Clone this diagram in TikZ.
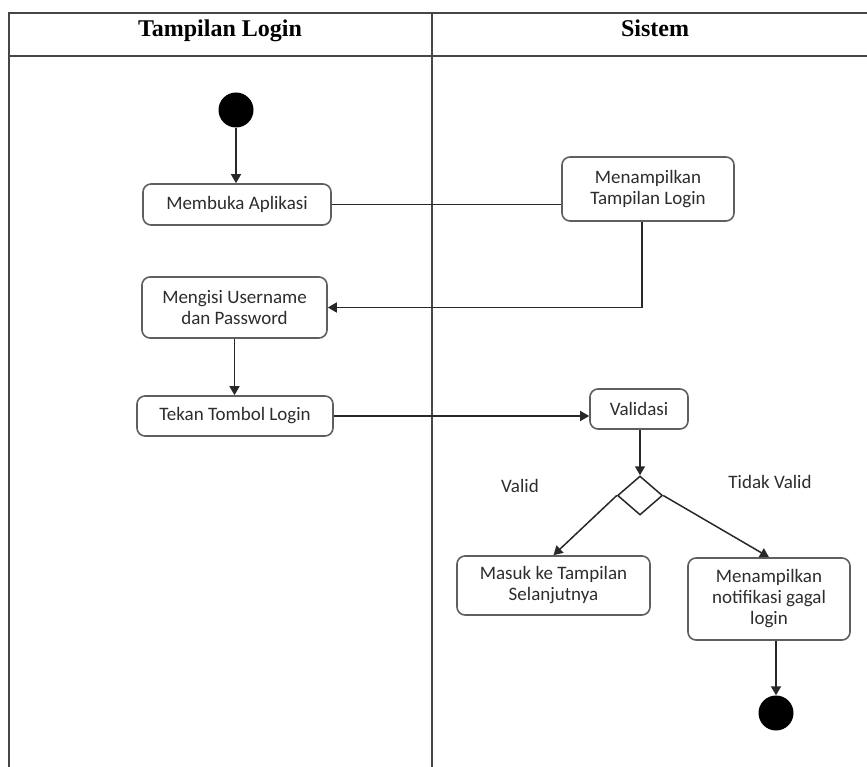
\documentclass[tikz,border=0pt]{standalone}
\usepackage{fontspec}
\setmainfont{Carlito}
\newfontfamily\headfont{Liberation Serif}
\usetikzlibrary{arrows.meta,shapes.geometric}

\definecolor{textgray}{RGB}{45,45,45}
\definecolor{boxgray}{RGB}{95,95,95}
\definecolor{lanegray}{RGB}{70,70,70}
\definecolor{linegray}{RGB}{40,40,40}

\tikzset{
  lane/.style={draw=lanegray, line width=2pt},
  head/.style={font=\headfont\bfseries\fontsize{24}{28}\selectfont, text=black, anchor=base},
  act/.style={draw=boxgray, line width=1.6pt, rounded corners=8pt, fill=white,
    align=center, inner sep=0pt, text=textgray,
    font=\fontsize{19}{21}\selectfont},
  flow/.style={draw=linegray, line width=1.5pt, -{Triangle[length=9pt,width=10pt]}},
  plain/.style={draw=linegray, line width=1.5pt},
  dot/.style={circle, fill=black, inner sep=0pt, minimum size=35pt},
  choice/.style={diamond, draw=linegray, line width=1.5pt, inner sep=0pt,
    minimum width=45pt, minimum height=39pt, fill=white},
  lbl/.style={text=textgray, font=\fontsize{19}{21}\selectfont}
}

\begin{document}
\begin{tikzpicture}[x=1pt, y=-1pt]
\useasboundingbox (0,0) rectangle (867,767);

% swimlane frame
\draw[lane] (9,767) -- (9,13) -- (867,13);
\draw[lane] (9,56) -- (867,56);
\draw[lane] (432,13) -- (432,767);
\node[head] (h1) at (220,37) {Tampilan Login};
\node[head] (h2) at (655,37) {Sistem};

% activities
\node[dot] (start) at (236,110) {};
\node[act, minimum width=188pt, minimum height=41pt] (buka) at (237,204.5) {Membuka Aplikasi};
\node[act, minimum width=172pt, minimum height=64pt] (tampil) at (648,189) {Menampilkan\\Tampilan Login};
\node[act, minimum width=185pt, minimum height=61pt] (isi) at (234.5,307.5) {Mengisi Username\\dan Password};
\node[act, minimum width=196pt, minimum height=40pt] (tekan) at (235,416) {Tekan Tombol Login};
\node[act, minimum width=98pt, minimum height=40pt] (valid) at (639,409) {Validasi};
\node[choice] (dec) at (640,495.5) {};
\node[act, minimum width=193pt, minimum height=59pt] (masuk) at (553.5,585.5) {Masuk ke Tampilan\\Selanjutnya};
\node[act, minimum width=162pt, minimum height=82pt] (gagal) at (769,599) {Menampilkan\\notifikasi gagal\\login};
\node[dot] (end) at (776,713) {};

\node[lbl] (lv) at (520,486) {Valid};
\node[lbl] (ltv) at (770,482) {Tidak Valid};

% connectors
\draw[flow] (start.south) -- (start.south |- buka.north);
\draw[plain] (buka.east) -- (buka.east -| tampil.west);
\draw[flow] ([xshift=-6pt]tampil.south) |- (isi.east);
\draw[flow] (isi.south) -- (isi.south |- tekan.north);
\draw[flow] (tekan.east) -- (tekan.east -| valid.west);
\draw[flow] (dec.north |- valid.south) -- (dec.north);
\draw[flow] (dec.west) -- (masuk.north);
\draw[flow] (dec.east) -- (gagal.north);
\draw[flow] (end.north |- gagal.south) -- (end.north);
\end{tikzpicture}
\end{document}
